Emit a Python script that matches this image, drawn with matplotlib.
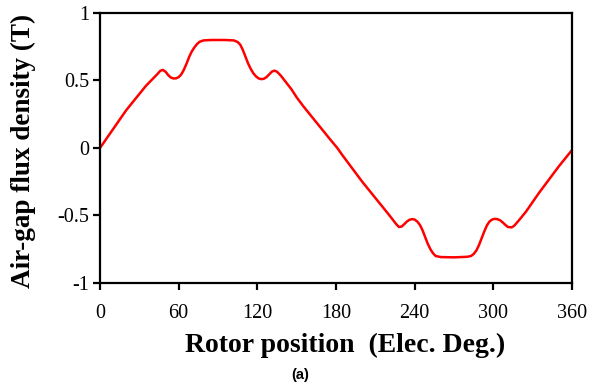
import matplotlib
matplotlib.use("Agg")
import matplotlib.pyplot as plt

# Air-gap flux density over one electrical period
angle_deg = [0, 5, 10, 15, 20, 25, 30, 35, 40, 44, 46, 48, 50, 52, 54, 56, 58, 60,
             62, 64, 66, 68, 70, 72, 74, 76, 79, 85, 95, 102, 105, 107, 109, 111,
             113, 115, 117, 119, 121, 123, 125, 127, 129, 131, 133, 135, 138, 142,
             146, 150, 155, 160, 165, 170, 175, 181,
             185, 190, 195, 200, 205, 210, 215, 220, 224, 226, 228, 230, 232, 234,
             236, 238, 240, 242, 244, 246, 248, 250, 252, 254, 256, 260, 270, 280,
             283, 285, 287, 289, 291, 293, 295, 297, 299, 301, 303, 305, 307, 309,
             311, 314, 316, 320, 325, 330, 335, 340, 345, 350, 355, 360]
flux_T = [0.0, 0.07, 0.14, 0.21, 0.28, 0.34, 0.40, 0.46, 0.51, 0.55, 0.572, 0.578,
          0.565, 0.54, 0.522, 0.515, 0.516, 0.525, 0.545, 0.58, 0.625, 0.675,
          0.715, 0.745, 0.77, 0.787, 0.797, 0.80, 0.80, 0.797, 0.785, 0.765,
          0.725, 0.675, 0.625, 0.585, 0.553, 0.53, 0.515, 0.51, 0.513, 0.525,
          0.545, 0.565, 0.573, 0.565, 0.535, 0.485, 0.435, 0.375, 0.31, 0.25,
          0.19, 0.13, 0.07, 0.0,
          -0.055, -0.12, -0.185, -0.25, -0.31, -0.37, -0.43, -0.49, -0.54,
          -0.565, -0.585, -0.582, -0.565, -0.545, -0.532, -0.527, -0.53, -0.545,
          -0.57, -0.61, -0.66, -0.71, -0.75, -0.78, -0.80, -0.808, -0.81, -0.806,
          -0.80, -0.785, -0.76, -0.72, -0.67, -0.62, -0.575, -0.545, -0.53,
          -0.525, -0.527, -0.535, -0.55, -0.568, -0.585, -0.588, -0.575, -0.53,
          -0.47, -0.40, -0.33, -0.265, -0.20, -0.135, -0.075, -0.015]

x_ticks = [0, 60, 120, 180, 240, 300, 360]
y_ticks = [-1, -0.5, 0, 0.5, 1]
y_tick_labels = ["-1", "-0.5", "0", "0.5", "1"]

serif = ["Liberation Serif", "DejaVu Serif"]

fig = plt.figure(figsize=(5.91, 3.89), dpi=100)
ax = fig.add_axes([0.1692, 0.2725, 0.7987, 0.6941])

ax.plot(angle_deg, flux_T, color="#ff0000", linewidth=1.8)

ax.set_xlim(0, 360)
ax.set_ylim(-1, 1)
ax.set_xticks(x_ticks)
ax.set_xticklabels([str(v) for v in x_ticks], family=serif, fontsize=14.5)
ax.set_yticks(y_ticks)
ax.set_yticklabels(y_tick_labels, family=serif, fontsize=14.5)

for s in ax.spines.values():
    s.set_linewidth(1.6)
    s.set_color("black")

ax.tick_params(axis="x", direction="out", length=5, width=1.6, pad=10)
ax.tick_params(axis="y", direction="out", length=5, width=1.6, pad=3)

ax.set_xlabel("Rotor position  (Elec. Deg.)", family=serif, fontsize=20,
              fontweight="bold")
ax.xaxis.set_label_coords(0.52, -0.23)
ax.xaxis.label.set_va("center")
ax.set_ylabel("Air-gap flux density (T)", family=serif, fontsize=19.5,
              fontweight="bold")
ax.yaxis.set_label_coords(-0.162, 0.49)
ax.yaxis.label.set_va("center")

fig.text(0.508, 0.036, "(a)", family=["Liberation Sans", "DejaVu Sans"],
         fontsize=10.5, ha="center", va="center", fontweight="bold")

fig.savefig("out.png", dpi=100)
